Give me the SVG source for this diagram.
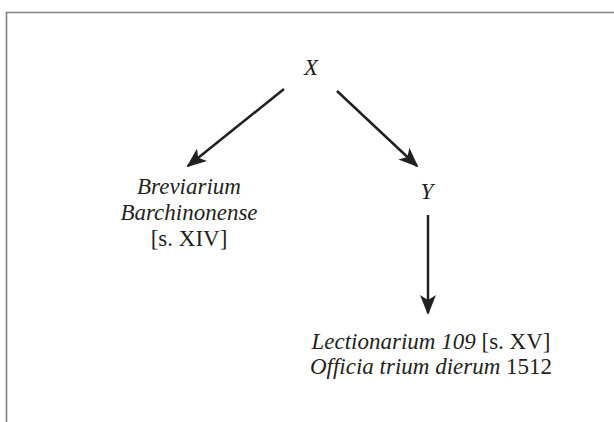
<svg xmlns="http://www.w3.org/2000/svg" width="614" height="422" viewBox="0 0 614 422">
<defs>
<marker id="ah" viewBox="0 0 20 16" refX="18" refY="8" markerWidth="20" markerHeight="16" markerUnits="userSpaceOnUse" orient="auto">
<path d="M0,0 L20,8 L0,16 L5,8 Z" fill="#231f20"/>
</marker>
<style>
text{font-family:"Liberation Serif","Times New Roman",serif;font-size:23px;fill:#231f20;text-anchor:middle}
.i{font-style:italic}
.c{stroke:#231f20;stroke-width:2.5;fill:none;marker-end:url(#ah)}
</style>
</defs>
<rect width="614" height="422" fill="#fff"/>
<path d="M6.5,422 V12.5 H614" fill="none" stroke="#808080" stroke-width="1.6"/>
<g id="x"><text x="311" y="75" class="i">X</text></g>
<g id="brev"><text x="189" y="194" class="i">Breviarium</text><text x="189" y="220" class="i">Barchinonense</text><text x="189" y="246">[s. XIV]</text></g>
<g id="y"><text x="427" y="199" class="i">Y</text></g>
<g id="lect"><text x="431" y="349"><tspan class="i">Lectionarium 109</tspan> [s. XV]</text><text x="431" y="374"><tspan class="i">Officia trium dierum</tspan> 1512</text></g>
<g id="connectors">
<line class="c" x1="284" y1="89" x2="188" y2="166"/>
<line class="c" x1="337" y1="91" x2="417" y2="166"/>
<line class="c" x1="428" y1="215" x2="428" y2="313"/>
</g>
</svg>
